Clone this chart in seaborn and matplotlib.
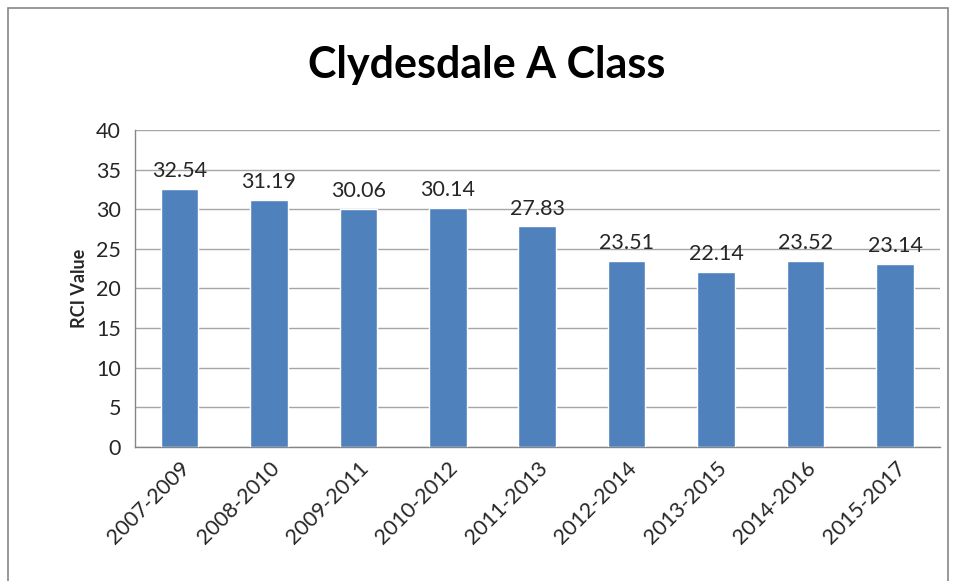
import matplotlib
matplotlib.use("Agg")
import matplotlib.pyplot as plt
import numpy as np
import pandas as pd
import seaborn as sns
from matplotlib.patches import Rectangle

# chart values
periods = ["2007-2009", "2008-2010", "2009-2011", "2010-2012", "2011-2013",
           "2012-2014", "2013-2015", "2014-2016", "2015-2017"]
rci_values = [32.54, 31.19, 30.06, 30.14, 27.83, 23.51, 22.14, 23.52, 23.14]
y_ticks = [0, 5, 10, 15, 20, 25, 30, 35, 40]

df = pd.DataFrame({"period": periods, "rci": rci_values})

sns.set_style("white")
plt.rcParams["font.family"] = ["Lato", "DejaVu Sans"]

fig = plt.figure(figsize=(9.56, 5.81), dpi=100)
ax = fig.add_axes([0.141, 0.231, 0.842, 0.545])

sns.barplot(data=df, x="period", y="rci", color="#4F81BD", saturation=1,
            width=0.42, ax=ax, zorder=3)

for i, v in enumerate(rci_values):
    ax.text(i, v + 1.0, f"{v:.2f}", ha="center", va="bottom", fontsize=15.5,
            color="#262626")

ax.set_ylim(0, 40)
ax.set_yticks(y_ticks)
ax.set_xlim(-0.5, len(periods) - 0.5)
ax.yaxis.grid(True, color="#A6A6A6", linewidth=1, zorder=0)
ax.set_axisbelow(True)

for s in ["top", "right"]:
    ax.spines[s].set_visible(False)
for s in ["left", "bottom"]:
    ax.spines[s].set_color("#868686")
    ax.spines[s].set_linewidth(1)

ax.set_xticks(np.arange(len(periods)))
ax.set_xticklabels(periods, rotation=45, ha="right", rotation_mode="anchor",
                   fontsize=15.5, color="#262626")
ax.set_xticks(np.arange(-0.5, len(periods)), minor=True)
ax.tick_params(axis="x", which="major", length=0, pad=8)
ax.tick_params(axis="x", which="minor", length=5, color="#868686", direction="out")
ax.tick_params(axis="y", which="major", length=5, color="#868686", direction="out",
               labelsize=15.5, labelcolor="#262626", pad=5)

ax.set_xlabel("")
ax.set_ylabel("RCI Value", fontsize=13, fontweight="bold", color="#262626", labelpad=6)

fig.text(0.509, 0.888, "Clydesdale A Class", ha="center", va="center",
         fontsize=31, fontweight="bold", color="#000000")

fig.patches.append(Rectangle((0.008, -0.01), 0.984, 0.997, transform=fig.transFigure,
                             fill=False, edgecolor="#868686", linewidth=1.2))

fig.savefig("out.png", dpi=100)
